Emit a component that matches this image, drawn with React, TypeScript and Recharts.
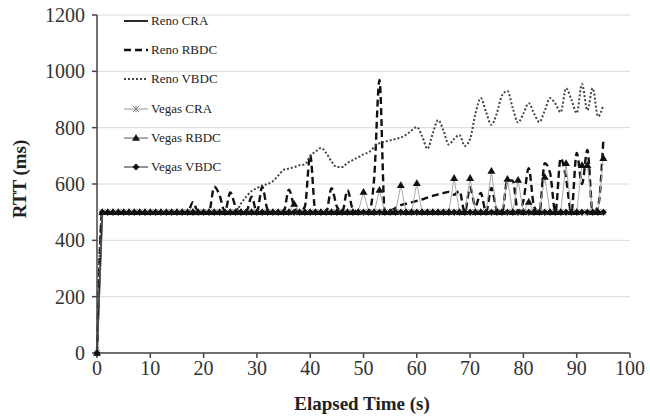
import React from 'react';
import { LineChart, Line, XAxis, YAxis, CartesianGrid, Legend, Label } from 'recharts';

const times = [
  0, 1, 2, 3, 4, 5, 6, 7, 8, 9,
  10, 11, 12, 13, 14, 15, 16, 17, 18, 19,
  20, 21, 22, 23, 24, 25, 26, 27, 28, 29,
  30, 31, 32, 33, 34, 35, 36, 37, 38, 39,
  40, 41, 42, 43, 44, 45, 46, 47, 48, 49,
  50, 51, 52, 53, 54, 55, 56, 57, 58, 59,
  60, 61, 62, 63, 64, 65, 66, 67, 68, 69,
  70, 71, 72, 73, 74, 75, 76, 77, 78, 79,
  80, 81, 82, 83, 84, 85, 86, 87, 88, 89,
  90, 91, 92, 93, 94, 95,
];

const renoCRA = [
  0, 500, 500, 500, 500, 500, 500, 500, 500, 500,
  500, 500, 500, 500, 500, 500, 500, 500, 500, 500,
  500, 500, 500, 500, 500, 500, 500, 500, 500, 500,
  500, 500, 500, 500, 500, 500, 500, 500, 500, 500,
  500, 500, 500, 500, 500, 500, 500, 500, 500, 500,
  500, 500, 500, 500, 500, 500, 500, 500, 500, 500,
  500, 500, 500, 500, 500, 500, 500, 500, 500, 500,
  500, 500, 500, 500, 500, 500, 500, 500, 500, 500,
  500, 500, 500, 500, 500, 500, 500, 500, 500, 500,
  500, 500, 500, 500, 500, 500,
];

const renoRBDC = [
  0, 500, 500, 500, 500, 500, 500, 500, 500, 500,
  500, 500, 500, 500, 500, 500, 500, 500, 535, 500,
  500, 500, 590, 560, 500, 570, 520, 500, 500, 555,
  500, 590, 510, 500, 500, 500, 580, 520, 500, 520,
  703, 500, 500, 500, 585, 520, 500, 578, 510, 500,
  500, 500, 620, 969, 500, 505, 515, 525, 530, 535,
  540, 545, 552, 558, 563, 568, 572, 562, 575, 500,
  588, 520, 568, 500, 586, 510, 500, 614, 612, 500,
  540, 656, 520, 500, 674, 640, 500, 692, 620, 500,
  710, 600, 721, 500, 520, 756,
];

const renoVBDC = [
  0, 500, 500, 500, 500, 500, 500, 500, 500, 500,
  500, 500, 500, 500, 500, 500, 500, 500, 500, 500,
  500, 500, 500, 500, 500, 505, 500, 530, 555, 575,
  585, 595, 600, 610, 630, 650, 655, 660, 667, 670,
  700, 715, 728, 710, 680, 660, 660, 675, 685, 695,
  705, 713, 730, 745, 750, 755, 760, 765, 775, 790,
  802, 770, 725, 780, 827, 790, 740, 760, 774, 735,
  760, 850, 905, 855, 810, 850, 915, 930, 870, 818,
  850, 887, 850, 820, 860, 905, 885, 855, 940, 900,
  852, 955, 862, 940, 840, 880,
];

const vegasCRA = [
  0, 500, 500, 500, 500, 500, 500, 500, 500, 500,
  500, 500, 500, 500, 500, 500, 500, 500, 500, 500,
  500, 500, 500, 500, 500, 500, 500, 500, 500, 500,
  500, 500, 500, 500, 500, 500, 500, 500, 500, 500,
  500, 500, 500, 500, 500, 500, 500, 500, 500, 500,
  500, 500, 500, 500, 500, 500, 500, 500, 500, 500,
  500, 500, 500, 500, 500, 500, 500, 500, 500, 500,
  500, 500, 500, 500, 500, 500, 500, 500, 500, 500,
  500, 500, 500, 500, 500, 500, 500, 500, 500, 500,
  500, 500, 500, 500, 500, 500,
];

const vegasRBDC = [
  0, 500, 500, 500, 500, 500, 500, 500, 500, 500,
  500, 500, 500, 500, 500, 500, 500, 500, 500, 500,
  500, 500, 500, 500, 500, 500, 500, 500, 500, 500,
  500, 500, 500, 500, 500, 500, 500, 529, 500, 500,
  500, 500, 500, 500, 500, 500, 500, 500, 500, 500,
  572, 500, 500, 579, 500, 500, 500, 596, 500, 500,
  603, 500, 500, 500, 500, 500, 500, 621, 500, 500,
  621, 500, 500, 500, 646, 500, 500, 618, 500, 614,
  500, 536, 500, 500, 625, 500, 500, 500, 674, 500,
  500, 667, 667, 500, 500, 692,
];

const vegasVBDC = [
  0, 500, 500, 500, 500, 500, 500, 500, 500, 500,
  500, 500, 500, 500, 500, 500, 500, 500, 500, 500,
  500, 500, 500, 500, 500, 500, 500, 500, 500, 500,
  500, 500, 500, 500, 500, 500, 500, 500, 500, 500,
  500, 500, 500, 500, 500, 500, 500, 500, 500, 500,
  500, 500, 500, 500, 500, 500, 500, 500, 500, 500,
  500, 500, 500, 500, 500, 500, 500, 500, 500, 500,
  500, 500, 500, 500, 500, 500, 500, 500, 500, 500,
  500, 500, 500, 500, 500, 500, 500, 500, 500, 500,
  500, 500, 500, 500, 500, 500,
];

const xTicks = [0, 10, 20, 30, 40, 50, 60, 70, 80, 90, 100];
const yTicks = [0, 200, 400, 600, 800, 1000, 1200];

const rows = times.map((t, i) => ({
  t,
  renoCRA: renoCRA[i],
  renoRBDC: renoRBDC[i],
  renoVBDC: renoVBDC[i],
  vegasCRA: vegasCRA[i],
  vegasRBDC: vegasRBDC[i],
  vegasVBDC: vegasVBDC[i],
}));

const serif = '"Liberation Serif", "Times New Roman", serif';
const tickFont = 20;

// marker shapes
const triangle = (cx: number, cy: number, key: string) => (
  <polygon key={key} points={`${cx},${cy - 4} ${cx - 4},${cy + 2.8} ${cx + 4},${cy + 2.8}`} fill="#111" />
);
const diamond = (cx: number, cy: number, key: string) => (
  <polygon key={key} points={`${cx},${cy - 3.5} ${cx + 3.5},${cy} ${cx},${cy + 3.5} ${cx - 3.5},${cy}`} fill="#111" />
);
const star = (cx: number, cy: number, key: string) => (
  <g key={key} stroke="#888" strokeWidth={1}>
    <line x1={cx - 3} y1={cy - 3} x2={cx + 3} y2={cy + 3} />
    <line x1={cx - 3} y1={cy + 3} x2={cx + 3} y2={cy - 3} />
    <line x1={cx} y1={cy - 3.5} x2={cx} y2={cy + 3.5} />
  </g>
);

const dotOf = (shape: typeof triangle, name: string) => (p: any) => {
  if (p.cx == null || p.cy == null) return <g key={`${name}-${p.index}`} />;
  return shape(p.cx, p.cy, `${name}-${p.index}`);
};

const XTick = (p: any) => (
  <text x={p.x} y={p.y} dy="0.75em" textAnchor="middle" fontFamily={serif} fontSize={tickFont} fill="#333">
    {p.payload.value}
  </text>
);
const YTick = (p: any) => (
  <text x={p.x} y={p.y} dy="0.35em" textAnchor="end" fontFamily={serif} fontSize={tickFont} fill="#333">
    {p.payload.value}
  </text>
);

const series = [
  { key: 'renoCRA', name: 'Reno CRA', stroke: '#111', width: 1.8, dash: undefined, marker: null },
  { key: 'renoRBDC', name: 'Reno RBDC', stroke: '#111', width: 2.4, dash: '7 4', marker: null },
  { key: 'renoVBDC', name: 'Reno VBDC', stroke: '#444', width: 2, dash: '2 2', marker: null },
  { key: 'vegasCRA', name: 'Vegas CRA', stroke: '#999', width: 1, dash: undefined, marker: star },
  { key: 'vegasRBDC', name: 'Vegas RBDC', stroke: '#aaa', width: 1, dash: undefined, marker: triangle },
  { key: 'vegasVBDC', name: 'Vegas VBDC', stroke: '#222', width: 1, dash: undefined, marker: diamond },
];

const LegendBox = () => (
  <div style={{ fontFamily: serif, fontSize: 13, color: '#222' }}>
    {series.map((s) => (
      <div key={s.key} style={{ display: 'flex', alignItems: 'center', height: 29.3 }}>
        <svg width={28} height={12}>
          <line
            x1={2}
            y1={6}
            x2={26}
            y2={6}
            stroke={s.key === 'vegasRBDC' ? '#555' : s.stroke}
            strokeWidth={s.width}
            strokeDasharray={s.dash}
          />
          {s.marker ? s.marker(14, 6, 'lg') : null}
        </svg>
        <span style={{ marginLeft: 1 }}>{s.name}</span>
      </div>
    ))}
  </div>
);

export default function App() {
  return (
    <div style={{ position: 'absolute', left: 0, top: 0, width: 650, height: 418, background: '#fff' }}>
      <LineChart width={650} height={418} data={rows} margin={{ top: 15, right: 20, bottom: 5, left: 0 }}>
        <CartesianGrid vertical={false} stroke="#dadada" />
        <XAxis
          dataKey="t"
          type="number"
          domain={[0, 100]}
          ticks={xTicks}
          height={60}
          tickSize={5}
          tickMargin={2}
          stroke="#444"
          strokeWidth={1.5}
          tick={XTick}
        >
          <Label
            content={() => (
              <text x={362} y={410} textAnchor="middle" fontFamily={serif} fontWeight="bold" fontSize={19} fill="#222">
                Elapsed Time (s)
              </text>
            )}
          />
        </XAxis>
        <YAxis
          type="number"
          domain={[0, 1200]}
          ticks={yTicks}
          width={97}
          tickSize={5}
          tickMargin={7}
          stroke="#444"
          strokeWidth={1.5}
          tick={YTick}
        >
          <Label
            content={() => (
              <text
                x={26}
                y={179}
                transform="rotate(-90 26 179)"
                textAnchor="middle"
                fontFamily={serif}
                fontWeight="bold"
                fontSize={19}
                fill="#222"
              >
                RTT (ms)
              </text>
            )}
          />
        </YAxis>
        <Legend
          layout="vertical"
          align="center"
          verticalAlign="middle"
          content={LegendBox}
          wrapperStyle={{ left: 122, top: 6, width: 160 }}
        />
        {series.map((s) => (
          <Line
            key={s.key}
            dataKey={s.key}
            name={s.name}
            type={s.key === 'renoRBDC' || s.key === 'renoVBDC' ? 'monotone' : 'linear'}
            stroke={s.stroke}
            strokeWidth={s.width}
            strokeDasharray={s.dash}
            dot={s.marker ? dotOf(s.marker, s.key) : false}
            activeDot={false}
            isAnimationActive={false}
          />
        ))}
      </LineChart>
    </div>
  );
}
